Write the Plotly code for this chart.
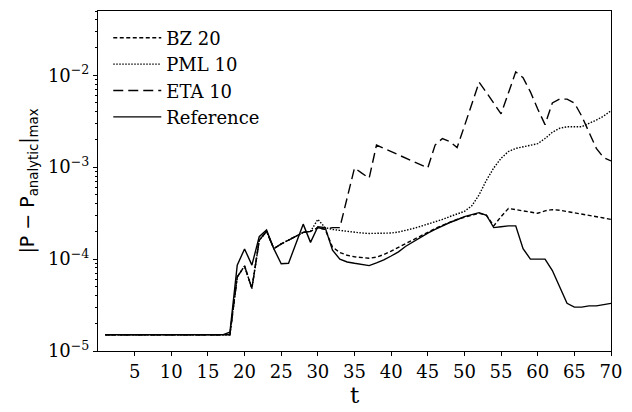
import plotly.graph_objects as go

# Time samples
t = list(range(1, 71))

# Max pointwise error for each boundary treatment
flat = [1.5e-5] * 17

bz20 = flat + [
    1.5e-5, 6.4e-5, 8.4e-5, 4.8e-5, 1.6e-4, 2.0e-4, 1.3e-4, 1.46e-4, 1.6e-4, 1.75e-4,
    1.95e-4, 2.0e-4, 2.2e-4, 2.1e-4, 1.35e-4, 1.18e-4, 1.1e-4, 1.06e-4, 1.03e-4, 1.02e-4,
    1.05e-4, 1.12e-4, 1.22e-4, 1.35e-4, 1.48e-4, 1.62e-4, 1.78e-4, 1.97e-4, 2.15e-4, 2.33e-4,
    2.52e-4, 2.7e-4, 2.85e-4, 3.0e-4, 3.15e-4, 3.0e-4, 2.3e-4, 2.9e-4, 3.55e-4, 3.45e-4,
    3.35e-4, 3.25e-4, 3.15e-4, 3.35e-4, 3.45e-4, 3.4e-4, 3.3e-4, 3.2e-4, 3.1e-4, 3.0e-4,
    2.9e-4, 2.8e-4, 2.7e-4,
]

pml10 = flat + [
    1.5e-5, 6.4e-5, 8.4e-5, 4.8e-5, 1.6e-4, 2.0e-4, 1.3e-4, 1.46e-4, 1.6e-4, 1.75e-4,
    1.95e-4, 2.0e-4, 2.7e-4, 2.2e-4, 2.1e-4, 2.05e-4, 2.0e-4, 1.95e-4, 1.92e-4, 1.9e-4,
    1.9e-4, 1.9e-4, 1.92e-4, 1.97e-4, 2.05e-4, 2.15e-4, 2.27e-4, 2.4e-4, 2.55e-4, 2.7e-4,
    2.9e-4, 3.1e-4, 3.3e-4, 3.8e-4, 5.0e-4, 7.2e-4, 9.8e-4, 1.25e-3, 1.48e-3, 1.6e-3,
    1.67e-3, 1.72e-3, 1.8e-3, 2.05e-3, 2.4e-3, 2.65e-3, 2.75e-3, 2.75e-3, 2.75e-3, 3.0e-3,
    3.25e-3, 3.6e-3, 4.1e-3,
]

eta10 = flat + [
    1.5e-5, 6.4e-5, 8.4e-5, 4.8e-5, 1.6e-4, 2.0e-4, 1.3e-4, 1.46e-4, 1.6e-4, 1.75e-4,
    1.95e-4, 2.0e-4, 2.2e-4, 2.1e-4, 2.2e-4, 2.2e-4, 4.7e-4, 9.8e-4, 8.6e-4, 7.6e-4,
    1.74e-3, 1.6e-3, 1.47e-3, 1.35e-3, 1.24e-3, 1.14e-3, 1.05e-3, 9.8e-4, 1.74e-3, 2.05e-3,
    1.9e-3, 1.63e-3, 2.8e-3, 4.8e-3, 8.4e-3, 6.5e-3, 4.9e-3, 3.8e-3, 6.4e-3, 1.09e-2,
    9.4e-3, 6.6e-3, 4.3e-3, 2.9e-3, 5.0e-3, 5.5e-3, 5.5e-3, 5.0e-3, 3.6e-3, 2.4e-3,
    1.6e-3, 1.27e-3, 1.17e-3,
]

reference = flat + [
    1.6e-5, 8.6e-5, 1.29e-4, 8.6e-5, 1.75e-4, 2.07e-4, 1.29e-4, 8.9e-5, 9.0e-5, 1.46e-4,
    2.4e-4, 1.52e-4, 2.25e-4, 2.2e-4, 1.25e-4, 1.0e-4, 9.3e-5, 9.0e-5, 8.7e-5, 8.5e-5,
    9.1e-5, 9.8e-5, 1.08e-4, 1.2e-4, 1.38e-4, 1.55e-4, 1.72e-4, 1.92e-4, 2.1e-4, 2.3e-4,
    2.5e-4, 2.68e-4, 2.9e-4, 3.05e-4, 3.2e-4, 3.0e-4, 2.2e-4, 2.25e-4, 2.3e-4, 2.3e-4,
    1.3e-4, 1.0e-4, 1.0e-4, 1.0e-4, 7.5e-5, 5.0e-5, 3.3e-5, 3.0e-5, 3.0e-5, 3.1e-5,
    3.1e-5, 3.2e-5, 3.3e-5,
]

series_names = ["BZ 20", "PML 10", "ETA 10", "Reference"]
series_values = [bz20, pml10, eta10, reference]
series_dash = ["4px,2.5px", "1.5px,1.5px", "10px,5px", "solid"]

y_major = [1e-5, 1e-4, 1e-3, 1e-2]
y_major_text = [
    "10<sup style='font-size:80%'>−5</sup>", "10<sup style='font-size:80%'>−4</sup>",
    "10<sup style='font-size:80%'>−3</sup>", "10<sup style='font-size:80%'>−2</sup>",
]
y_minor = [m * 10.0 ** e for e in range(-5, -1) for m in range(2, 10) if m * 10.0 ** e <= 0.05]
x_ticks = list(range(5, 71, 5))

serif = "DejaVu Serif"

fig = go.Figure()
for name, vals, dash in zip(series_names, series_values, series_dash):
    fig.add_trace(go.Scatter(
        x=t, y=vals, name=name, mode="lines",
        line=dict(color="black", width=1.4, dash=dash),
    ))

fig.update_layout(
    width=632, height=412,
    margin=dict(l=98, r=13, t=10, b=56),
    paper_bgcolor="white", plot_bgcolor="white",
    font=dict(family=serif, size=18, color="black"),
    legend=dict(
        x=0.02, y=0.975, xanchor="left", yanchor="top",
        bgcolor="rgba(0,0,0,0)", borderwidth=0,
        font=dict(family=serif, size=18),
        itemwidth=48,
    ),
    xaxis=dict(
        range=[0, 70], tickvals=x_ticks,
        showgrid=False, zeroline=False,
        showline=True, linecolor="black", linewidth=1, mirror=True,
        ticks="outside", ticklen=4, tickcolor="black",
        tickfont=dict(family=serif, size=18),
        title=dict(text="t", font=dict(family=serif, size=23), standoff=4),
    ),
    yaxis=dict(
        type="log", range=[-5, -1.30103],
        tickvals=y_major, ticktext=y_major_text,
        showgrid=False, zeroline=False,
        showline=True, linecolor="black", linewidth=1, mirror=True,
        ticks="outside", ticklen=4, tickcolor="black",
        tickfont=dict(family=serif, size=18),
        minor=dict(tickvals=y_minor, ticks="outside", ticklen=2, tickcolor="black", showgrid=False),
        title=dict(
            text="|P − P<sub>analytic</sub>|<sub>max</sub>",
            font=dict(family="DejaVu Sans", size=19), standoff=8,
        ),
    ),
)

fig.write_html("out.html")
